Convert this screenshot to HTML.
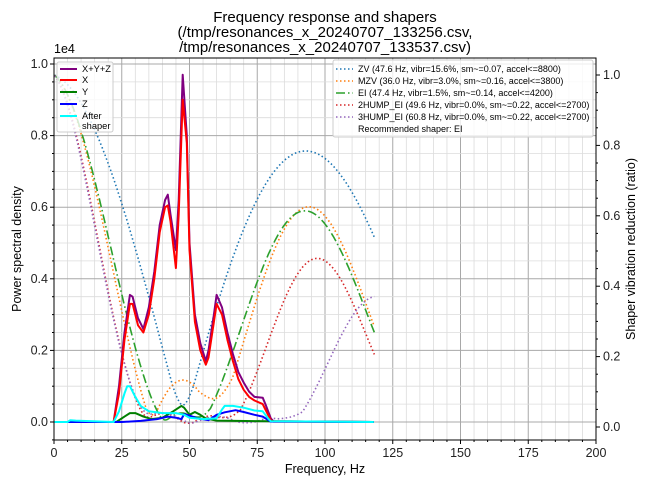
<!DOCTYPE html>
<html><head><meta charset="utf-8"><style>
html,body{margin:0;padding:0;background:#fff;}
svg{display:block;font-family:"Liberation Sans","DejaVu Sans",sans-serif;}
</style></head><body>
<svg id="s" width="650" height="487" viewBox="0 0 650 487" xmlns="http://www.w3.org/2000/svg">
<rect width="650" height="487" fill="#fff"/>
<g id="grid"></g>
<g id="shapers"></g>
<g id="series"></g>
<rect x="54" y="58" width="542" height="382" fill="none" stroke="#000" stroke-width="1"/>
<g id="ticks" font-size="12.5" fill="#222"></g>
<text x="325" y="22" font-size="15" text-anchor="middle">Frequency response and shapers</text>
<text x="325" y="37" font-size="15" text-anchor="middle">(/tmp/resonances_x_20240707_133256.csv,</text>
<text x="325" y="52" font-size="15" text-anchor="middle">/tmp/resonances_x_20240707_133537.csv)</text>
<text x="54" y="53" font-size="12.5">1e4</text>
<text x="325" y="473" font-size="12.5" text-anchor="middle">Frequency, Hz</text>
<text transform="translate(21,249) rotate(-90)" font-size="12.5" text-anchor="middle">Power spectral density</text>
<text transform="translate(635,249) rotate(-90)" font-size="12.5" text-anchor="middle">Shaper vibration reduction (ratio)</text>
<g id="leg1" font-size="9.3">
<rect x="57" y="62" width="56" height="70" rx="2" fill="#fff" fill-opacity="0.8" stroke="#ccc"/>
<line x1="60" y1="69" x2="77" y2="69" stroke="#800080" stroke-width="2"/><text x="82" y="72">X+Y+Z</text>
<line x1="60" y1="80" x2="77" y2="80" stroke="#f00" stroke-width="2"/><text x="82" y="83">X</text>
<line x1="60" y1="92" x2="77" y2="92" stroke="#008000" stroke-width="2"/><text x="82" y="95">Y</text>
<line x1="60" y1="104" x2="77" y2="104" stroke="#00f" stroke-width="2"/><text x="82" y="107">Z</text>
<line x1="60" y1="116" x2="77" y2="116" stroke="#0ff" stroke-width="2"/><text x="82" y="119">After</text><text x="82" y="129">shaper</text>
</g>
<g id="leg2" font-size="9">
<rect x="333" y="60" width="260" height="77" rx="2" fill="#fff" fill-opacity="0.8" stroke="#ccc"/>
<line x1="336" y1="69" x2="353" y2="69" stroke="#1f77b4" stroke-width="1.5" stroke-dasharray="1.5,2.5"/><text x="358" y="72">ZV (47.6 Hz, vibr=15.6%, sm~=0.07, accel&lt;=8800)</text>
<line x1="336" y1="81" x2="353" y2="81" stroke="#ff7f0e" stroke-width="1.5" stroke-dasharray="1.5,2.5"/><text x="358" y="84">MZV (36.0 Hz, vibr=3.0%, sm~=0.16, accel&lt;=3800)</text>
<line x1="336" y1="93" x2="353" y2="93" stroke="#2ca02c" stroke-width="1.5" stroke-dasharray="9,3,1.5,3"/><text x="358" y="96">EI (47.4 Hz, vibr=1.5%, sm~=0.14, accel&lt;=4200)</text>
<line x1="336" y1="105" x2="353" y2="105" stroke="#d62728" stroke-width="1.5" stroke-dasharray="1.5,2.5"/><text x="358" y="108">2HUMP_EI (49.6 Hz, vibr=0.0%, sm~=0.22, accel&lt;=2700)</text>
<line x1="336" y1="117" x2="353" y2="117" stroke="#9467bd" stroke-width="1.5" stroke-dasharray="1.5,2.5"/><text x="358" y="120">3HUMP_EI (60.8 Hz, vibr=0.0%, sm~=0.22, accel&lt;=2700)</text>
<text x="358" y="132">Recommended shaper: EI</text>
</g>
</svg>
<script>
(function(){
var NS="http://www.w3.org/2000/svg";
function el(p,t,a){var e=document.createElementNS(NS,t);for(var k in a)e.setAttribute(k,a[k]);p.appendChild(e);return e;}
function X(f){return 54+f*2.71;}
function YL(v){return 422-v*358;}
function YR(r){return 427-r*352;}
var g=document.getElementById('grid');
for(var f=0;f<=200;f+=5){var maj=f%25==0;el(g,'line',{x1:X(f),x2:X(f),y1:58,y2:440,stroke:maj?'#a8a8a8':'#dcdcdc','stroke-width':maj?1:0.8});}
for(var v=-0.05;v<=1.02;v+=0.05){var vv=Math.round(v*100)/100;var maj=Math.abs(vv*5-Math.round(vv*5))<1e-6;el(g,'line',{x1:54,x2:596,y1:YL(vv),y2:YL(vv),stroke:maj?'#a8a8a8':'#dcdcdc','stroke-width':maj?1:0.8});}
var t=document.getElementById('ticks');
for(var f=0;f<=200;f+=25){el(t,'line',{x1:X(f),x2:X(f),y1:440,y2:444,stroke:'#000'});var tx=el(t,'text',{x:X(f),y:457,'text-anchor':'middle'});tx.textContent=f;}
for(var f=5;f<=200;f+=5){if(f%25)el(t,'line',{x1:X(f),x2:X(f),y1:440,y2:442,stroke:'#000'});}
for(var i=0;i<=5;i++){var v=i*0.2;el(t,'line',{x1:50,x2:54,y1:YL(v),y2:YL(v),stroke:'#000'});var tx=el(t,'text',{x:48,y:YL(v)+4,'text-anchor':'end'});tx.textContent=v.toFixed(1);
 el(t,'line',{x1:596,x2:600,y1:YR(v),y2:YR(v),stroke:'#000'});var tr=el(t,'text',{x:603,y:YR(v)+4});tr.textContent=v.toFixed(1);}
for(var i=-1;i<=20;i++){var v=i*0.05;if(i%4){var y=YL(v);if(y>58&&y<440)el(t,'line',{x1:52,x2:54,y1:y,y2:y,stroke:'#000'});var yr=YR(v);if(yr>58&&yr<440)el(t,'line',{x1:596,x2:598,y1:yr,y2:yr,stroke:'#000'});}}
var zeta=0.1,df=Math.sqrt(1-zeta*zeta),vt=0.05;
function zv(f){var K=Math.exp(-zeta*Math.PI/df),td=1/(f*df);return [[1,K],[0,.5*td]];}
function mzv(f){var K=Math.exp(-.75*zeta*Math.PI/df),td=1/(f*df),a1=1-1/Math.SQRT2,a2=(Math.SQRT2-1)*K,a3=a1*K*K;return [[a1,a2,a3],[0,.375*td,.75*td]];}
function ei(f){var K=Math.exp(-zeta*Math.PI/df),td=1/(f*df),a1=.25*(1+vt),a2=.5*(1-vt)*K,a3=a1*K*K;return [[a1,a2,a3],[0,.5*td,td]];}
function h2(f){var K=Math.exp(-zeta*Math.PI/df),td=1/(f*df),V2=vt*vt,Xx=Math.pow(V2*(Math.sqrt(1-V2)+1),1/3),a1=(3*Xx*Xx+2*Xx+3*V2)/(16*Xx),a2=(.5-a1)*K,a3=a2*K,a4=a1*K*K*K;return [[a1,a2,a3,a4],[0,.5*td,td,1.5*td]];}
function h3(f){var K=Math.exp(-zeta*Math.PI/df),K2=K*K,td=1/(f*df),a1=.0625*(1+3*vt+2*Math.sqrt(2*(vt+1)*vt)),a2=.25*(1-vt)*K,a3=(.5*(1+vt)-2*a1)*K2,a4=a2*K2,a5=a1*K2*K2;return [[a1,a2,a3,a4,a5],[0,.5*td,td,1.5*td,2*td]];}
function resp(sh,fr){var A=sh[0],T=sh[1],best=0;[0.075,0.1,0.15].forEach(function(z){var w=2*Math.PI*fr,d=z*w,wd=w*Math.sqrt(1-z*z),S=0,C=0,sa=0,Tl=T[T.length-1];for(var i=0;i<A.length;i++){var W=A[i]*Math.exp(-d*(Tl-T[i]));S+=W*Math.sin(wd*T[i]);C+=W*Math.cos(wd*T[i]);sa+=A[i];}var r=Math.sqrt(S*S+C*C)/sa;if(r>best)best=r;});return best;}
var sg=document.getElementById('shapers');
[[zv(47.6),'#1f77b4','1.5,2.5'],[mzv(36.0),'#ff7f0e','1.5,2.5'],[ei(47.4),'#2ca02c','9,3,1.5,3'],[h2(49.6),'#d62728','1.5,2.5'],[h3(60.8),'#9467bd','1.5,2.5']].forEach(function(s){
 var p=[];for(var fr=0.2;fr<=118.5;fr+=0.5){p.push(X(fr).toFixed(1)+','+YR(resp(s[0],fr)).toFixed(1));}
 el(sg,'polyline',{points:p.join(' '),fill:'none',stroke:s[1],'stroke-width':1.6,'stroke-dasharray':s[2]});});
var D={
purple:[[0,0],[22,0],[24,0.1],[26,0.25],[28,0.355],[29,0.35],[31,0.29],[33,0.26],[35,0.32],[37,0.42],[39,0.55],[41,0.62],[42,0.635],[43,0.58],[45,0.48],[46,0.62],[47.5,0.97],[49,0.8],[50,0.5],[52,0.3],[54,0.22],[56,0.17],[57,0.2],[59,0.3],[60,0.355],[62,0.32],[64,0.25],[66,0.19],[68,0.14],[70,0.11],[72,0.085],[74,0.07],[77,0.068],[78,0.05],[80,0.01],[81,0.002],[118,0]],
red:[[0,0],[22,0],[24,0.08],[26,0.23],[28,0.33],[29,0.33],[31,0.27],[33,0.25],[35,0.3],[37,0.4],[39,0.53],[41,0.6],[42,0.605],[43,0.56],[45,0.43],[46,0.58],[47.5,0.9],[49,0.78],[50,0.48],[52,0.28],[54,0.2],[56,0.16],[57,0.18],[59,0.28],[60,0.33],[62,0.3],[64,0.23],[66,0.17],[68,0.12],[70,0.09],[72,0.07],[74,0.06],[77,0.05],[78,0.035],[80,0.005],[81,0.001],[118,0]],
green:[[0,0],[23,0],[26,0.015],[28,0.025],[30,0.025],[33,0.015],[36,0.008],[40,0.012],[44,0.03],[47,0.045],[48,0.04],[50,0.02],[52,0.028],[54,0.02],[56,0.01],[60,0.004],[80,0.002],[118,0]],
blue:[[0,0],[25,0],[32,0.003],[38,0.008],[42,0.015],[45,0.012],[47,0.008],[48,0.022],[50,0.018],[53,0.01],[57,0.005],[60,0.02],[63,0.027],[67,0.033],[70,0.028],[74,0.02],[77,0.015],[80,0.001],[118,0]],
cyan:[[0,0],[5,0],[6,0.005],[8,0.004],[22,0],[24,0.03],[26,0.08],[27,0.1],[28,0.1],[30,0.07],[32,0.045],[35,0.03],[40,0.025],[45,0.025],[48,0.02],[50,0.012],[55,0.008],[60,0.01],[62,0.035],[63,0.045],[66,0.045],[70,0.04],[74,0.032],[77,0.03],[79,0.01],[80,0.002],[118,0]]};
var cols={purple:'#800080',red:'#ff0000',green:'#008000',blue:'#0000ff',cyan:'#00ffff'};
var sr=document.getElementById('series');
['purple','red','green','blue','cyan'].forEach(function(k){var p=D[k].map(function(q){return X(q[0]).toFixed(1)+','+YL(q[1]).toFixed(1);});
 el(sr,'polyline',{points:p.join(' '),fill:'none',stroke:cols[k],'stroke-width':2,'stroke-linejoin':'round'});});
})();
</script>
</body></html>
